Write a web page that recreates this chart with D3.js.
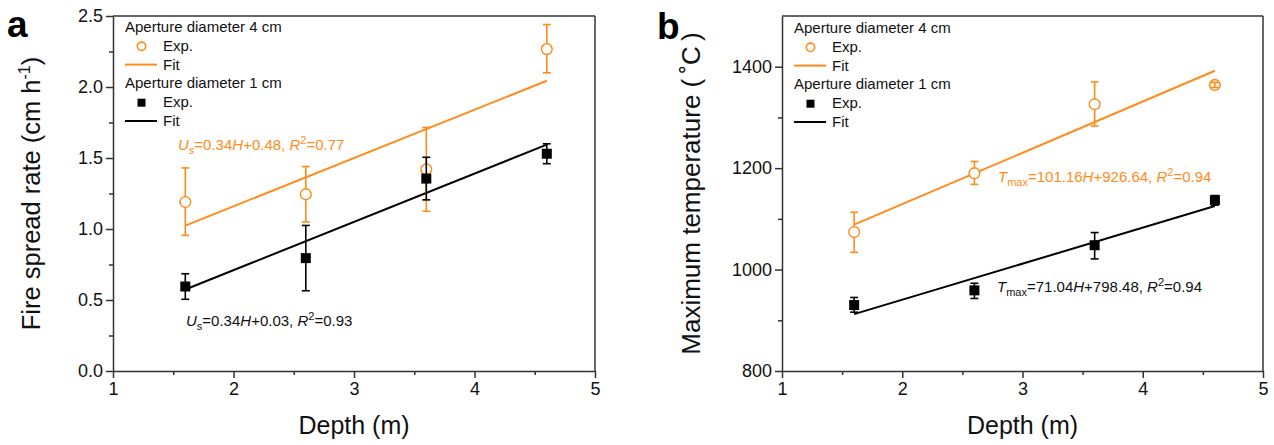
<!DOCTYPE html>
<html><head><meta charset="utf-8">
<script src="https://cdn.jsdelivr.net/npm/d3@7"></script>
<style>
html,body{margin:0;padding:0;background:#fff;}
text{font-family:"Liberation Sans",Arial,sans-serif;}
</style></head>
<body>
<svg id="chart" width="1274" height="445"></svg>
<script>
// ---------- data ----------
const depth = [1.6, 2.6, 3.6, 4.6];
const xTicks = [1, 2, 3, 4, 5];

// panel a: fire spread rate (cm h-1)
const rate4 = [1.19, 1.245, 1.42, 2.267];
const rate4Lo = [0.955, 1.05, 1.125, 2.10];
const rate4Hi = [1.43, 1.44, 1.715, 2.44];
const rate1 = [0.595, 0.795, 1.355, 1.53];
const rate1Lo = [0.505, 0.565, 1.205, 1.46];
const rate1Hi = [0.685, 1.025, 1.505, 1.60];
const rateFit4 = [0.34, 0.48];   // slope, intercept
const rateFit1 = [0.34, 0.03];
const rateTicks = [0.0, 0.5, 1.0, 1.5, 2.0, 2.5];

// panel b: maximum temperature (°C)
const temp4 = [1074, 1190, 1326, 1364];
const temp4Lo = [1034, 1168, 1283, 1359];
const temp4Hi = [1113, 1213, 1370, 1369];
const temp1 = [930, 959, 1048, 1137];
const temp1Lo = [916, 943, 1021, 1127];
const temp1Hi = [945, 973, 1073, 1146];
const tempFit4 = [101.16, 926.64];
const tempFit1 = [71.04, 798.48];
const tempTicks = [800, 1000, 1200, 1400];

const legendTitles = ["Aperture diameter 4 cm", "Aperture diameter 1 cm"];
const ORANGE = "#ff8c1a";

const svg = d3.select("#chart");

function panel(opt) {
  const g = svg.append("g");
  const x = d3.scaleLinear().domain([1, 5]).range([opt.left, opt.right]);
  const y = d3.scaleLinear().domain(opt.yDomain).range([371, 16]);

  // box top/right
  g.append("line").attr("x1", opt.left).attr("x2", opt.right).attr("y1", 16).attr("y2", 16)
    .attr("stroke", "#333").attr("stroke-width", 1.5);
  g.append("line").attr("x1", opt.right).attr("x2", opt.right).attr("y1", 16).attr("y2", 371)
    .attr("stroke", "#333").attr("stroke-width", 1.5);

  // minor ticks
  g.append("g").attr("transform", `translate(0,371)`)
    .call(d3.axisBottom(x).tickValues(d3.range(1.5, 5, 1)).tickSize(4).tickFormat("").tickSizeOuter(0))
    .call(s => s.select(".domain").remove());
  g.append("g").attr("transform", `translate(${opt.left},0)`)
    .call(d3.axisLeft(y).tickValues(opt.yMinor).tickSize(4).tickFormat("").tickSizeOuter(0))
    .call(s => s.select(".domain").remove());

  const xa = g.append("g").attr("transform", `translate(0,371)`)
    .call(d3.axisBottom(x).tickValues(xTicks).tickSize(7).tickSizeOuter(0).tickPadding(4).tickFormat(d3.format("d")));
  const ya = g.append("g").attr("transform", `translate(${opt.left},0)`)
    .call(d3.axisLeft(y).tickValues(opt.yTicks).tickSize(7).tickSizeOuter(0).tickPadding(3).tickFormat(opt.yFmt));
  [xa, ya].forEach(a => {
    a.selectAll("text").attr("font-size", 18).attr("fill", "#111")
      .style("font-family", '"Liberation Sans",Arial,sans-serif');
  });
  g.selectAll(".domain, .tick line").attr("stroke", "#333").attr("stroke-width", 1.5);

  // axis titles
  g.append("text").attr("x", (opt.left + opt.right) / 2).attr("y", 434)
    .attr("text-anchor", "middle").attr("font-size", 25).attr("fill", "#111").text("Depth (m)");
  const yt = g.append("text").attr("transform", `translate(${opt.ytX},193.5) rotate(-90)`)
    .attr("text-anchor", "middle").attr("font-size", opt.ytSize).attr("fill", "#111");
  opt.yTitle(yt);

  // panel letter
  g.append("text").attr("x", opt.letterX).attr("y", opt.letterY).attr("font-size", 37)
    .attr("font-weight", "bold").attr("fill", "#000").text(opt.letter);

  // fit lines
  const line = d3.line().x(d => x(d[0])).y(d => y(d[1]));
  [[opt.fit4, ORANGE], [opt.fit1, "#000"]].forEach(([f, c]) => {
    const pts = [depth[0], depth[depth.length - 1]].map(h => [h, f[0] * h + f[1]]);
    g.append("path").attr("d", line(pts)).attr("fill", "none").attr("stroke", c).attr("stroke-width", 2);
  });

  // error bars + markers
  function series(vals, lo, hi, color, shape) {
    const eg = g.append("g");
    depth.forEach((h, i) => {
      const cx = x(h);
      eg.append("line").attr("x1", cx).attr("x2", cx).attr("y1", y(lo[i])).attr("y2", y(hi[i]))
        .attr("stroke", color).attr("stroke-width", 1.6);
      [lo[i], hi[i]].forEach(v => eg.append("line").attr("x1", cx - 4).attr("x2", cx + 4)
        .attr("y1", y(v)).attr("y2", y(v)).attr("stroke", color).attr("stroke-width", 1.6));
      if (shape === "circle") {
        eg.append("circle").attr("cx", cx).attr("cy", y(vals[i])).attr("r", 5.3)
          .attr("fill", "none").attr("stroke", color).attr("stroke-width", 1.6);
      } else {
        eg.append("rect").attr("x", cx - 5).attr("y", y(vals[i]) - 5).attr("width", 10).attr("height", 10)
          .attr("fill", color);
      }
    });
  }
  series(opt.v4, opt.v4Lo, opt.v4Hi, ORANGE, "circle");
  // white interior for circles with long error bars
  depth.forEach((h, i) => {
    if (opt.v4Hi[i] - opt.v4Lo[i] > (opt.yDomain[1] - opt.yDomain[0]) * 0.03)
      g.append("circle").attr("cx", x(h)).attr("cy", y(opt.v4[i])).attr("r", 4.5).attr("fill", "#fff");
  });
  series(opt.v1, opt.v1Lo, opt.v1Hi, "#000", "square");

  // legend
  const lx = opt.legendX, ly = opt.legendY, dy = 18.8;
  const lg = g.append("g").attr("font-size", 15).attr("fill", "#111");
  [[0, ORANGE, "circle"], [1, "#000", "square"]].forEach(([k, c, shp]) => {
    const b = ly + k * 3 * dy;
    lg.append("text").attr("x", lx).attr("y", b).text(legendTitles[k]);
    if (shp === "circle") {
      lg.append("circle").attr("cx", lx + 16.5).attr("cy", b + dy - 4.5).attr("r", 4.2)
        .attr("fill", "none").attr("stroke", c).attr("stroke-width", 1.6);
    } else {
      lg.append("rect").attr("x", lx + 12.5).attr("y", b + dy - 8.5).attr("width", 8).attr("height", 8).attr("fill", c);
    }
    lg.append("text").attr("x", lx + 38).attr("y", b + dy).text("Exp.");
    lg.append("line").attr("x1", lx).attr("x2", lx + 32).attr("y1", b + 2 * dy - 5).attr("y2", b + 2 * dy - 5)
      .attr("stroke", c).attr("stroke-width", 2);
    lg.append("text").attr("x", lx + 38).attr("y", b + 2 * dy).text("Fit");
  });

  // equations
  opt.eqs.forEach(e => {
    const t = g.append("text").attr("x", e.x).attr("y", e.y).attr("font-size", 15).attr("fill", e.color);
    e.parts.forEach(p => {
      const s = t.append("tspan").text(p.t);
      if (p.i) s.attr("font-style", "italic");
      if (p.sub) s.attr("font-size", 11).attr("dy", 4);
      if (p.sup) s.attr("font-size", 11).attr("dy", -6);
      if (p.back) s.attr("dy", p.back);
    });
  });
}

function eqParts(sym, symSub, slope, inter, r2) {
  return [
    {t: sym, i: true}, {t: symSub, sub: true}, {t: "=" + slope, back: -4}, {t: "H", i: true},
    {t: "+" + inter + ", "}, {t: "R", i: true}, {t: "2", sup: true}, {t: "=" + r2, back: 6}
  ];
}

panel({
  left: 113, right: 595, yDomain: [0, 2.5], yTicks: rateTicks, yMinor: d3.range(0.25, 2.5, 0.5),
  yFmt: d3.format(".1f"), ytX: 40, ytSize: 25.5, letter: "a", letterX: 7, letterY: 37,
  yTitle: t => {
    t.append("tspan").text("Fire spread rate (cm h");
    t.append("tspan").text("-1").attr("font-size", 16).attr("dy", -10);
    t.append("tspan").text(")").attr("dy", 10);
  },
  fit4: rateFit4, fit1: rateFit1,
  v4: rate4, v4Lo: rate4Lo, v4Hi: rate4Hi, v1: rate1, v1Lo: rate1Lo, v1Hi: rate1Hi,
  legendX: 125, legendY: 32,
  eqs: [
    {x: 178, y: 150, color: ORANGE, parts: eqParts("U", "s", rateFit4[0].toFixed(2), rateFit4[1].toFixed(2), "0.77")},
    {x: 186, y: 326, color: "#111", parts: eqParts("U", "s", rateFit1[0].toFixed(2), rateFit1[1].toFixed(2), "0.93")}
  ]
});

panel({
  left: 782, right: 1263, yDomain: [800, 1500], yTicks: tempTicks, yMinor: d3.range(900, 1500, 200),
  yFmt: d3.format("d"), ytX: 700, ytSize: 26, letter: "b", letterX: 657, letterY: 39,
  yTitle: t => { t.text("Maximum temperature (\u2009\u02DAC\u2009)"); },
  fit4: tempFit4, fit1: tempFit1,
  v4: temp4, v4Lo: temp4Lo, v4Hi: temp4Hi, v1: temp1, v1Lo: temp1Lo, v1Hi: temp1Hi,
  legendX: 794, legendY: 33,
  eqs: [
    {x: 998, y: 182, color: ORANGE, parts: eqParts("T", "max", tempFit4[0].toFixed(2), tempFit4[1].toFixed(2), "0.94")},
    {x: 997, y: 292, color: "#111", parts: eqParts("T", "max", tempFit1[0].toFixed(2), tempFit1[1].toFixed(2), "0.94")}
  ]
});
</script>
</body></html>
